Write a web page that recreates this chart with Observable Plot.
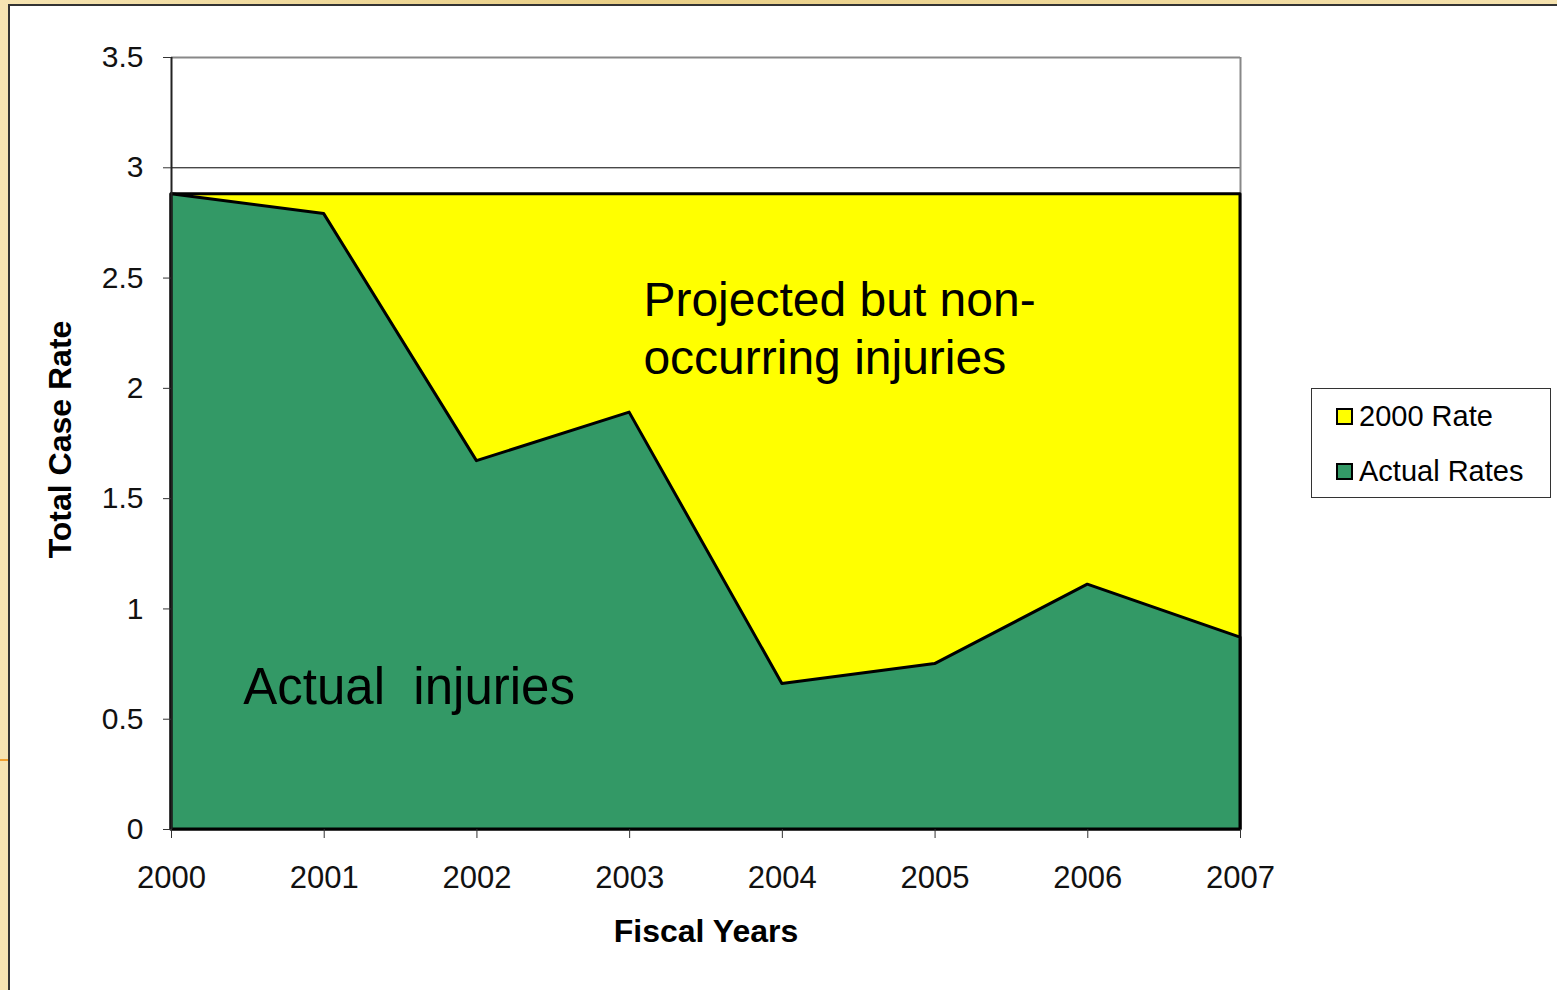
<!DOCTYPE html>
<html>
<head>
<meta charset="utf-8">
<script src="https://cdn.jsdelivr.net/npm/d3@7"></script>
<script src="https://cdn.jsdelivr.net/npm/@observablehq/plot@0.6"></script>
<style>
  html, body { margin: 0; padding: 0; }
  body {
    width: 1557px; height: 990px; overflow: hidden; position: relative;
    background: linear-gradient(90deg, #f6e4b2 0%, #e9cf86 40%, #f5e2ae 100%);
    font-family: "Liberation Sans", Arial, sans-serif;
  }
  #panel {
    position: absolute; left: 8px; top: 4px; right: 0; bottom: 0;
    background: #fff; border-left: 2px solid #333; border-top: 2px solid #333;
  }
  #accent { position: absolute; left: 0; top: 759px; width: 8px; height: 2px; background: #f0a030; }
  #chart { position: absolute; left: 0; top: 0; }
  #legend {
    position: absolute; left: 1311px; top: 388px; width: 238px; height: 108px;
    border: 1px solid #333; background: #fff;
  }
  .item { position: absolute; left: 24px; font-size: 29px; color: #000; line-height: 1; display: flex; align-items: center; }
  .sw { width: 13px; height: 13px; border: 2px solid #000; margin-right: 6px; }
</style>
</head>
<body>
<div id="accent"></div>
<div id="panel"></div>
<div id="chart"></div>
<div id="legend"></div>
<script>
// Data
const years = [2000, 2001, 2002, 2003, 2004, 2005, 2006, 2007];
const actualRates = [2.88, 2.79, 1.67, 1.89, 0.66, 0.75, 1.11, 0.87];
const rate2000 = [2.88, 2.88, 2.88, 2.88, 2.88, 2.88, 2.88, 2.88];
const yTicks = [0, 0.5, 1, 1.5, 2, 2.5, 3, 3.5];
const seriesNames = ["2000 Rate", "Actual Rates"];
const seriesColors = ["#ffff00", "#339966"];
const annotations = [
  {year: 2003.09, value: 2.51, text: "Projected but non-\noccurring injuries", size: 48},
  {year: 2000.47, value: 0.765, text: "Actual  injuries", size: 51}
];

const projected = years.map((y, i) => ({year: y, value: rate2000[i]}));
const actual = years.map((y, i) => ({year: y, value: actualRates[i]}));

const plot = Plot.plot({
  width: 1557,
  height: 990,
  marginLeft: 171,
  marginRight: 317,
  marginTop: 57,
  marginBottom: 161,
  style: {background: "transparent", fontFamily: "Liberation Sans, Arial, sans-serif"},
  x: {domain: [2000, 2007]},
  y: {domain: [0, 3.5]},
  marks: [
    Plot.ruleY([3], {stroke: "#000", strokeWidth: 1}),
    Plot.ruleY([3.5], {stroke: "#888", strokeWidth: 2}),
    Plot.ruleX([2007], {stroke: "#888", strokeWidth: 2}),
    Plot.areaY(projected, {x: "year", y: "value", fill: seriesColors[0], stroke: "#000", strokeWidth: 3, curve: "linear"}),
    Plot.areaY(actual, {x: "year", y: "value", fill: seriesColors[1], stroke: "#000", strokeWidth: 3, curve: "linear"}),
    Plot.ruleX([2000], {stroke: "#222", strokeWidth: 2}),
    Plot.axisY({ticks: yTicks, tickSize: 8, tickPadding: 20, fontSize: 30, label: null, tickFormat: d => String(d), stroke: "#333", color: "#111"}),
    Plot.axisX({ticks: years, tickSize: 9, tickPadding: 27, fontSize: 31, label: null, tickFormat: d => String(d), stroke: "#333", color: "#111"}),
    Plot.text(annotations, {x: "year", y: "value", text: "text", fontSize: d => d.size, textAnchor: "start", lineAnchor: "top", lineHeight: 1.19, fill: "#000"}),
    Plot.text(["Total Case Rate"], {frameAnchor: "left", dx: -111, dy: -4, rotate: -90, fontSize: 32, fontWeight: "bold", fill: "#000", textAnchor: "middle", lineAnchor: "middle"}),
    Plot.text(["Fiscal Years"], {frameAnchor: "bottom", dy: 102, fontSize: 32, fontWeight: "bold", fill: "#000", textAnchor: "middle", lineAnchor: "middle"})
  ]
});
document.getElementById("chart").appendChild(plot);

const legend = document.getElementById("legend");
seriesNames.forEach((name, i) => {
  const it = document.createElement("div");
  it.className = "item";
  it.style.top = (i === 0 ? 13 : 68) + "px";
  const sw = document.createElement("span");
  sw.className = "sw";
  sw.style.background = seriesColors[i];
  it.appendChild(sw);
  it.appendChild(document.createTextNode(name));
  legend.appendChild(it);
});
</script>
</body>
</html>
